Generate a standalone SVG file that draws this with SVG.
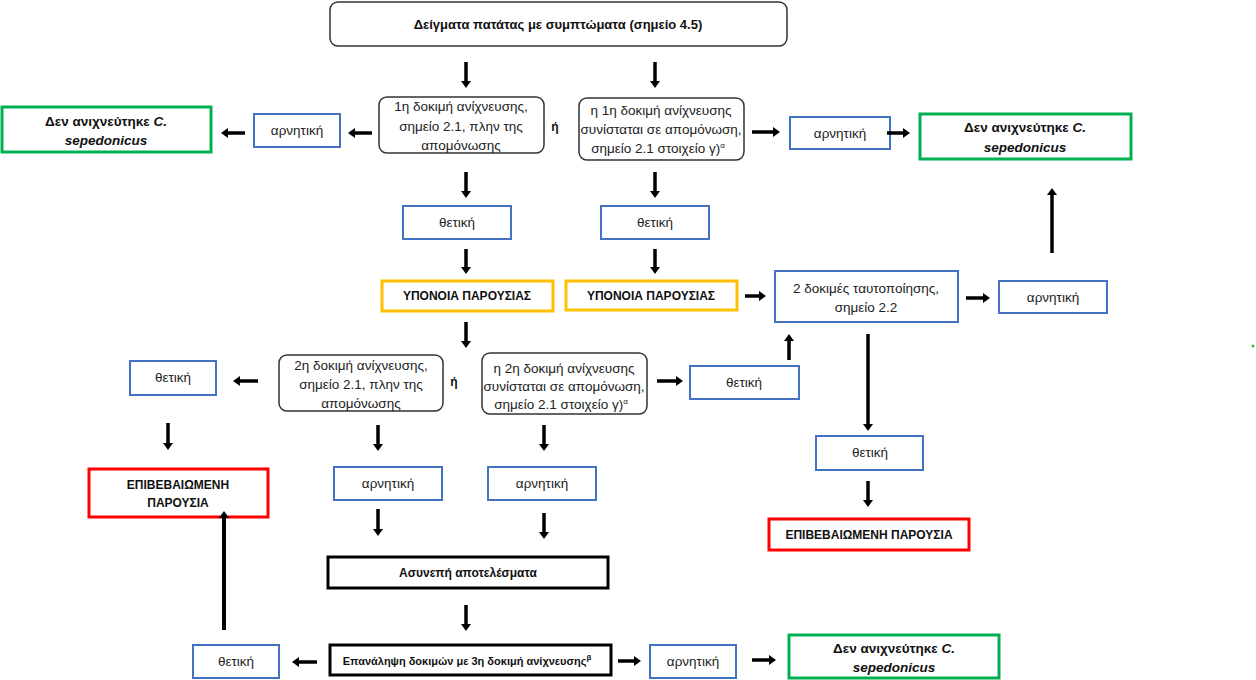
<svg xmlns="http://www.w3.org/2000/svg" width="1256" height="680" viewBox="0 0 1256 680">
<defs>
<marker id="ah" markerUnits="userSpaceOnUse" markerWidth="7" markerHeight="10" refX="0" refY="5" orient="auto">
<path d="M0,0 L7,5 L0,10 z" fill="#000"/>
</marker>
<style>
.t{font-family:"Liberation Sans","Noto Sans",sans-serif;font-size:13.5px;fill:#222;text-anchor:middle}
.b{font-weight:bold;fill:#111}
.i{font-style:italic}
.s{font-size:12px}
.rr{fill:#fff;stroke:#333;stroke-width:1.5}
.bl{fill:#fff;stroke:#4472c4;stroke-width:2}
.yl{fill:#fff;stroke:#ffc000;stroke-width:3}
.gr{fill:#fff;stroke:#00b050;stroke-width:3}
.rd{fill:#fff;stroke:#ff0000;stroke-width:3}
.bk{fill:#fff;stroke:#000;stroke-width:3}
.c line{stroke:#000;stroke-width:3.5;marker-end:url(#ah)}
</style>
</defs>
<rect width="1256" height="680" fill="#fff"/>
<g id="n-start"><rect class="rr" x="330" y="2" width="457" height="44" rx="8"/><text class="t b" x="558" y="29" style="font-size:13px">Δείγματα πατάτας με συμπτώματα (σημείο 4.5)</text></g>
<g id="n-test1a"><rect class="rr" x="379" y="97" width="165" height="56" rx="8"/><text class="t" x="461" y="111">1η δοκιμή ανίχνευσης,</text><text class="t" x="461" y="131">σημείο 2.1, πλην της</text><text class="t" x="461" y="150">απομόνωσης</text></g>
<g id="n-or1"><text class="t b s" x="555" y="131">ή</text></g>
<g id="n-test1b"><rect class="rr" x="579" y="98" width="165" height="62" rx="8"/><text class="t" x="661" y="115">η 1η δοκιμή ανίχνευσης</text><text class="t" x="661" y="134">συνίσταται σε απομόνωση,</text><text class="t" x="658" y="153">σημείο 2.1 στοιχείο γ)<tspan font-size="8" dy="-5">α</tspan></text></g>
<g id="n-neg1l"><rect class="bl" x="254" y="114" width="86" height="33"/><text class="t" x="297" y="135">αρνητική</text></g>
<g id="n-nd1l"><rect class="gr" x="2" y="107" width="209" height="45"/><text class="t b" x="106" y="126">Δεν ανιχνεύτηκε <tspan class="i">C.</tspan></text><text class="t b i" x="106" y="145">sepedonicus</text></g>
<g id="n-neg1r"><rect class="bl" x="790" y="117" width="100" height="32"/><text class="t" x="840" y="138">αρνητική</text></g>
<g id="n-nd1r"><rect class="gr" x="920" y="114" width="211" height="45"/><text class="t b" x="1025" y="132">Δεν ανιχνεύτηκε <tspan class="i">C.</tspan></text><text class="t b i" x="1025" y="152">sepedonicus</text></g>
<g id="n-pos1a"><rect class="bl" x="403" y="206" width="108" height="33"/><text class="t" x="457" y="227">θετική</text></g>
<g id="n-pos1b"><rect class="bl" x="601" y="206" width="108" height="33"/><text class="t" x="655" y="227">θετική</text></g>
<g id="n-sus1"><rect class="yl" x="382" y="281" width="171" height="30"/><text class="t b s" x="467" y="300">ΥΠΟΝΟΙΑ ΠΑΡΟΥΣΙΑΣ</text></g>
<g id="n-sus2"><rect class="yl" x="566" y="281" width="171" height="29"/><text class="t b s" x="651" y="300">ΥΠΟΝΟΙΑ ΠΑΡΟΥΣΙΑΣ</text></g>
<g id="n-ident"><rect class="bl" x="775" y="271" width="183" height="51"/><text class="t" x="866" y="293">2 δοκιμές ταυτοποίησης,</text><text class="t" x="866" y="312">σημείο 2.2</text></g>
<g id="n-neg-id"><rect class="bl" x="999" y="281" width="108" height="32"/><text class="t" x="1053" y="302">αρνητική</text></g>
<g id="n-test2a"><rect class="rr" x="279" y="355" width="164" height="56" rx="8"/><text class="t" x="361" y="370">2η δοκιμή ανίχνευσης,</text><text class="t" x="361" y="389">σημείο 2.1, πλην της</text><text class="t" x="361" y="408">απομόνωσης</text></g>
<g id="n-or2"><text class="t b s" x="454" y="386">ή</text></g>
<g id="n-test2b"><rect class="rr" x="482" y="353" width="165" height="61" rx="8"/><text class="t" x="564" y="373">η 2η δοκιμή ανίχνευσης</text><text class="t" x="564" y="391">συνίσταται σε απομόνωση,</text><text class="t" x="561" y="409">σημείο 2.1 στοιχείο γ)<tspan font-size="8" dy="-5">α</tspan></text></g>
<g id="n-pos2r"><rect class="bl" x="690" y="366" width="109" height="33"/><text class="t" x="744" y="387">θετική</text></g>
<g id="n-pos2l"><rect class="bl" x="130" y="361" width="86" height="34"/><text class="t" x="173" y="382">θετική</text></g>
<g id="n-conf1"><rect class="rd" x="89" y="469" width="179" height="48"/><text class="t b s" x="178" y="489">ΕΠΙΒΕΒΑΙΩΜΕΝΗ</text><text class="t b s" x="178" y="507">ΠΑΡΟΥΣΙΑ</text></g>
<g id="n-neg2a"><rect class="bl" x="334" y="467" width="108" height="33"/><text class="t" x="388" y="488">αρνητική</text></g>
<g id="n-neg2b"><rect class="bl" x="488" y="467" width="108" height="33"/><text class="t" x="542" y="488">αρνητική</text></g>
<g id="n-incons"><rect class="bk" x="328" y="557" width="280" height="31"/><text class="t b s" x="468" y="577">Ασυνεπή αποτελέσματα</text></g>
<g id="n-pos-id"><rect class="bl" x="816" y="436" width="107" height="34"/><text class="t" x="870" y="457">θετική</text></g>
<g id="n-conf2"><rect class="rd" x="769" y="519" width="200" height="31"/><text class="t b s" x="869" y="539">ΕΠΙΒΕΒΑΙΩΜΕΝΗ ΠΑΡΟΥΣΙΑ</text></g>
<g id="n-repeat"><rect class="bk" x="330" y="645" width="281" height="30"/><text class="t b" x="467" y="665" style="font-size:11px">Επανάληψη δοκιμών με 3η δοκιμή ανίχνευσης<tspan font-size="8" dy="-5">β</tspan></text></g>
<g id="n-pos3"><rect class="bl" x="193" y="645" width="86" height="33"/><text class="t" x="236" y="666">θετική</text></g>
<g id="n-neg3"><rect class="bl" x="650" y="645" width="86" height="33"/><text class="t" x="693" y="666">αρνητική</text></g>
<g id="n-nd3"><rect class="gr" x="789" y="635" width="210" height="43"/><text class="t b" x="894" y="653">Δεν ανιχνεύτηκε <tspan class="i">C.</tspan></text><text class="t b i" x="894" y="672">sepedonicus</text></g>
<circle cx="1253" cy="346" r="1.5" fill="#22cc22"/>
<g class="c" id="connectors">
<line x1="466" y1="62" x2="466" y2="81"/>
<line x1="655" y1="62" x2="655" y2="81"/>
<line x1="372" y1="133" x2="355" y2="133"/>
<line x1="245" y1="133" x2="228" y2="133"/>
<line x1="752" y1="132" x2="773" y2="132"/>
<line x1="887" y1="133" x2="903" y2="133"/>
<line x1="466" y1="172" x2="466" y2="191"/>
<line x1="655" y1="172" x2="655" y2="191"/>
<line x1="466" y1="249" x2="466" y2="267"/>
<line x1="655" y1="249" x2="655" y2="267"/>
<line x1="745" y1="296" x2="759" y2="296"/>
<line x1="966" y1="298" x2="983" y2="298"/>
<line x1="1052" y1="253" x2="1052" y2="195"/>
<line x1="466" y1="322" x2="466" y2="341"/>
<line x1="258" y1="381" x2="240" y2="381"/>
<line x1="657" y1="381" x2="676" y2="381"/>
<line x1="789" y1="360" x2="789" y2="341"/>
<line x1="168" y1="423" x2="168" y2="443"/>
<line x1="378" y1="425" x2="378" y2="444"/>
<line x1="544" y1="425" x2="544" y2="444"/>
<line x1="378" y1="509" x2="378" y2="529"/>
<line x1="544" y1="513" x2="544" y2="532"/>
<line x1="868" y1="334" x2="868" y2="424"/>
<line x1="868" y1="481" x2="868" y2="500"/>
<line x1="466" y1="605" x2="466" y2="624"/>
<line x1="317" y1="662" x2="299" y2="662"/>
<line x1="618" y1="661" x2="634" y2="661"/>
<line x1="752" y1="660" x2="769" y2="660"/>
<line x1="224" y1="630" x2="224" y2="518" style="stroke-width:4"/>
</g>
</svg>
